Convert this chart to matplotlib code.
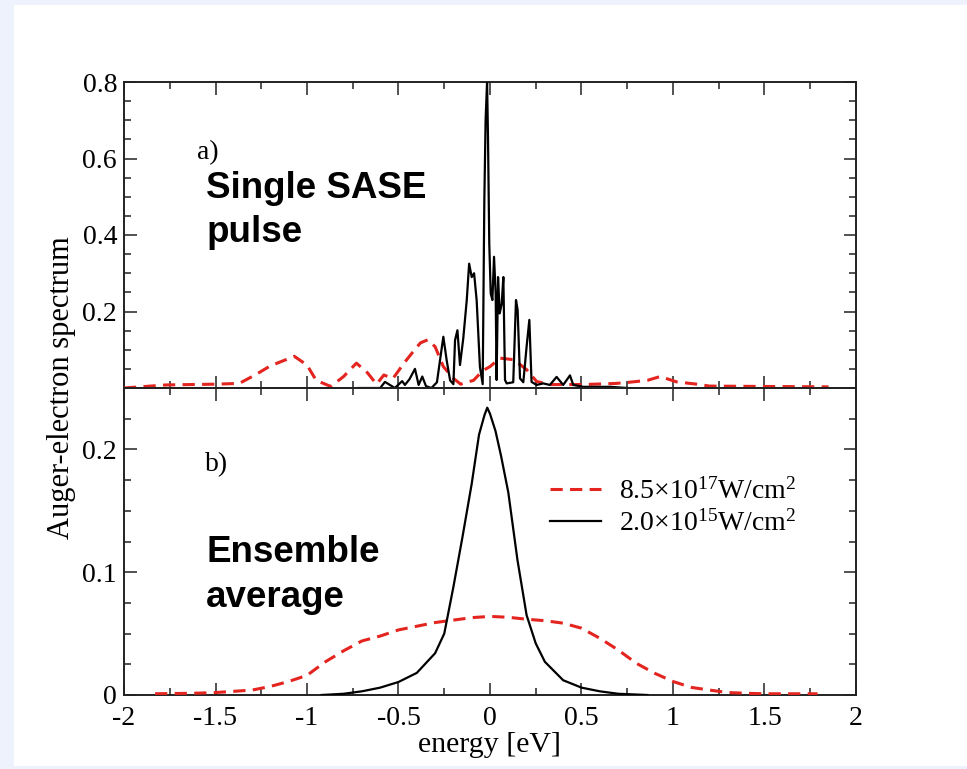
import matplotlib
matplotlib.use("Agg")
import matplotlib.pyplot as plt
from matplotlib.patches import Rectangle
from matplotlib.ticker import FixedLocator, MultipleLocator

plt.rcParams['font.family'] = ['Liberation Serif', 'DejaVu Serif']
plt.rcParams['mathtext.fontset'] = 'custom'
plt.rcParams['mathtext.rm'] = 'Liberation Serif'
plt.rcParams['mathtext.it'] = 'Liberation Serif:italic'
plt.rcParams['mathtext.bf'] = 'Liberation Serif:bold'

# ---------------- data ----------------
# panel a) single SASE pulse, high intensity (red dashed)
a_red_x = [-2.0, -1.77, -1.5, -1.37, -1.28, -1.2, -1.11, -1.07, -1.0, -0.95, -0.87,
           -0.8, -0.73, -0.67, -0.62, -0.58, -0.53, -0.47, -0.42, -0.38, -0.34, -0.30,
           -0.255, -0.2, -0.16, -0.09, -0.04, 0.0, 0.055, 0.13, 0.2, 0.255, 0.33, 0.51,
           0.69, 0.76, 0.86, 0.93, 1.02, 1.13, 1.2, 1.5, 1.85]
a_red_y = [0.0, 0.008, 0.010, 0.012, 0.035, 0.058, 0.075, 0.083, 0.060, 0.020, 0.004,
           0.030, 0.065, 0.040, 0.010, 0.034, 0.025, 0.065, 0.095, 0.118, 0.126, 0.108,
           0.056, 0.025, 0.010, 0.020, 0.045, 0.056, 0.078, 0.074, 0.048, 0.017, 0.009, 0.009,
           0.012, 0.015, 0.020, 0.030, 0.016, 0.010, 0.005, 0.004, 0.003]

# panel a) single SASE pulse, low intensity (black)
a_blk_x = [-0.72, -0.60, -0.574, -0.547, -0.52, -0.48, -0.465, -0.44, -0.41, -0.39,
           -0.37, -0.35, -0.32, -0.29, -0.273, -0.255, -0.236, -0.218, -0.2, -0.191,
           -0.178, -0.164, -0.146, -0.127, -0.114, -0.10, -0.087, -0.073, -0.055, -0.04,
           -0.031, -0.024, -0.016, -0.011, -0.004, 0.004, 0.013, 0.022, 0.031, 0.036,
           0.044, 0.053, 0.064, 0.073, 0.082, 0.091, 0.127, 0.142, 0.151, 0.164, 0.182,
           0.20, 0.215, 0.227, 0.255, 0.291, 0.327, 0.364, 0.40, 0.437, 0.455, 0.51,
           0.66, 0.75]
a_blk_y = [0.0, 0.0, 0.016, 0.008, 0.0, 0.018, 0.008, 0.023, 0.050, 0.008,
           0.030, 0.005, 0.0, 0.015, 0.073, 0.134, 0.070, 0.020, 0.010, 0.125,
           0.151, 0.060, 0.130, 0.230, 0.325, 0.290, 0.300, 0.230, 0.055, 0.010,
           0.490, 0.701, 0.800, 0.657, 0.378, 0.247, 0.230, 0.343, 0.247, 0.021,
           0.290, 0.195, 0.221, 0.290, 0.021, 0.012, 0.015, 0.230, 0.204, 0.025, 0.015,
           0.108, 0.178, 0.016, 0.008, 0.012, 0.008, 0.029, 0.008, 0.033, 0.008, 0.003,
           0.003, 0.0]

# panel b) ensemble average, high intensity (red dashed)
b_red_x = [-1.83, -1.6, -1.5, -1.4, -1.3, -1.2, -1.1, -1.0, -0.9, -0.8, -0.7, -0.6,
           -0.5, -0.4, -0.3, -0.2, -0.1, 0.0, 0.1, 0.2, 0.3, 0.4, 0.5, 0.6, 0.7, 0.8,
           0.9, 1.0, 1.1, 1.2, 1.3, 1.4, 1.5, 1.6, 1.79]
b_red_y = [0.001, 0.0015, 0.002, 0.003, 0.004, 0.007, 0.011, 0.016, 0.027, 0.036,
           0.044, 0.048, 0.053, 0.056, 0.059, 0.061, 0.063, 0.064, 0.0633, 0.0617,
           0.0605, 0.0585, 0.0544, 0.0462, 0.0367, 0.0258, 0.0177, 0.011, 0.0062,
           0.004, 0.002, 0.0014, 0.001, 0.001, 0.001]

# panel b) ensemble average, low intensity (black)
b_blk_x = [-0.92, -0.8, -0.7, -0.6, -0.5, -0.4, -0.3, -0.25, -0.2, -0.15, -0.1, -0.06,
           -0.03, -0.015, 0.0, 0.03, 0.06, 0.1, 0.15, 0.2, 0.25, 0.3, 0.4, 0.5, 0.6,
           0.7, 0.86]
b_blk_y = [0.0, 0.001, 0.003, 0.006, 0.0106, 0.018, 0.034, 0.050, 0.088, 0.129, 0.172,
           0.212, 0.228, 0.234, 0.229, 0.215, 0.195, 0.165, 0.110, 0.065, 0.042, 0.027,
           0.012, 0.006, 0.003, 0.001, 0.0]

legend_labels = [r"8.5$\times$10$^{17}$W/cm$^{2}$", r"2.0$\times$10$^{15}$W/cm$^{2}$"]
x_ticks = [-2, -1.5, -1, -0.5, 0, 0.5, 1, 1.5, 2]
x_ticklabels = ["-2", "-1.5", "-1", "-0.5", "0", "0.5", "1", "1.5", "2"]
a_yticks = [0.2, 0.4, 0.6, 0.8]
a_yticklabels = ["0.2", "0.4", "0.6", "0.8"]
b_yticks = [0.0, 0.1, 0.2]
b_yticklabels = ["0", "0.1", "0.2"]

RED = '#e3241f'
DASH = (0, (4.0, 2.4))
SANS = ['Liberation Sans', 'DejaVu Sans']

# ---------------- figure ----------------
W, H = 967, 769
fig = plt.figure(figsize=(W / 100, H / 100), dpi=100, facecolor='#eef2fc')
fig.patches.append(Rectangle((14 / W, 3 / H), 1 - 14 / W, (766 - 5) / H,
                             transform=fig.transFigure, facecolor='white',
                             edgecolor='none', zorder=-10))

left, right = 124 / W, 856 / W
y_top, y_mid, y_bot = 1 - 82 / H, 1 - 388 / H, 1 - 695 / H
axa = fig.add_axes([left, y_mid, right - left, y_top - y_mid])
axb = fig.add_axes([left, y_bot, right - left, y_mid - y_bot], sharex=axa)

for ax in (axa, axb):
    ax.set_facecolor('none')
    for s in ax.spines.values():
        s.set_linewidth(1.4)
        s.set_color('#222222')
    ax.tick_params(which='both', direction='in', top=True, right=True,
                   color='#222222', width=1.1)
    ax.tick_params(which='major', length=9, labelsize=20, pad=5)
    ax.tick_params(which='minor', length=5)
    ax.tick_params(axis='x', which='major', pad=8)
    ax.set_xlim(-2, 2)
    ax.xaxis.set_major_locator(FixedLocator(x_ticks))
    ax.xaxis.set_minor_locator(MultipleLocator(0.25))

# panel a
axa.plot(a_red_x, a_red_y, color=RED, lw=2.2, linestyle=DASH, zorder=3)
axa.plot(a_blk_x, a_blk_y, color='black', lw=1.6, zorder=4)
axa.set_ylim(0, 0.8)
axa.yaxis.set_major_locator(FixedLocator(a_yticks))
axa.set_yticklabels(a_yticklabels)
axa.yaxis.set_minor_locator(MultipleLocator(0.05))
axa.tick_params(axis='x', labelbottom=False)

axa.text(-1.60, 0.615, "a)", fontsize=20, ha='left', va='center')
axa.text(-1.55, 0.497, "Single SASE", fontsize=26.5, fontweight='bold',
         family=SANS, ha='left', va='baseline')
axa.text(-1.55, 0.382, "pulse", fontsize=26.5, fontweight='bold',
         family=SANS, ha='left', va='baseline')

# panel b
lr, = axb.plot(b_red_x, b_red_y, color=RED, lw=2.2, linestyle=DASH, zorder=3)
lb, = axb.plot(b_blk_x, b_blk_y, color='black', lw=1.6, zorder=4)
axb.set_ylim(0, 0.25)
axb.yaxis.set_major_locator(FixedLocator(b_yticks))
axb.set_yticklabels(b_yticklabels)
axb.yaxis.set_minor_locator(MultipleLocator(0.025))
axb.set_xticklabels(x_ticklabels)
axb.set_xlabel("energy [eV]", fontsize=21.5, labelpad=1)

axb.text(-1.557, 0.1875, "b)", fontsize=20, ha='left', va='center')
axb.text(-1.55, 0.1084, "Ensemble", fontsize=26.5, fontweight='bold',
         family=SANS, ha='left', va='baseline')
axb.text(-1.55, 0.072, "average", fontsize=26.5, fontweight='bold',
         family=SANS, ha='left', va='baseline')

axb.legend([lr, lb], legend_labels, loc='center left',
           bbox_to_anchor=(0.582, 0.61), frameon=False, fontsize=20,
           handlelength=1.85, handletextpad=0.62, labelspacing=0.2,
           borderpad=0, borderaxespad=0)

fig.text(62 / W, 1 - 388 / H, "Auger-electron spectrum", fontsize=22,
         rotation=90, ha='center', va='center')

fig.savefig("out.png", dpi=100, facecolor=fig.get_facecolor())
